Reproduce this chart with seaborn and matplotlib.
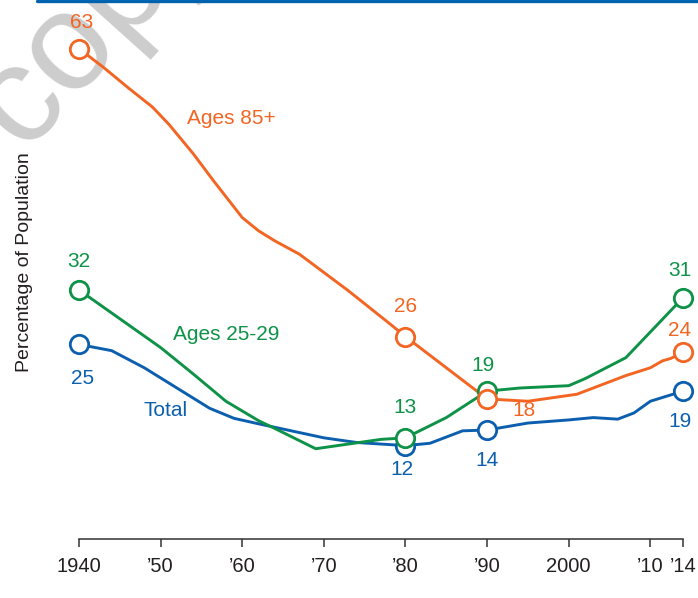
import matplotlib
matplotlib.use("Agg")
import matplotlib.pyplot as plt
from matplotlib.lines import Line2D
import pandas as pd
import seaborn as sns

# Share of the population in each group, by year
total_years = [1940, 1944, 1948, 1952, 1956, 1959, 1962, 1966, 1970, 1974, 1980,
               1983, 1987, 1990, 1995, 2000, 2003, 2006, 2008, 2010, 2014]
total_pct = [25, 24.2, 22.0, 19.4, 16.8, 15.5, 14.8, 13.9, 13.0, 12.4, 12,
             12.3, 13.9, 14, 14.9, 15.3, 15.6, 15.4, 16.2, 17.7, 19]

young_years = [1940, 1945, 1950, 1954, 1958, 1962, 1964, 1969, 1973, 1977, 1980,
               1985, 1990, 1994, 2000, 2002, 2007, 2014]
young_pct = [32, 28.3, 24.6, 21.2, 17.7, 15.2, 14.2, 11.6, 12.2, 12.8, 13,
             15.6, 19, 19.4, 19.7, 20.6, 23.3, 31]

old_years = [1940, 1943, 1946, 1949, 1951, 1954, 1956.5, 1960, 1962, 1964, 1967,
             1973, 1978.5, 1980, 1990, 1995, 2001, 2007, 2010, 2011.5, 2012.5, 2014]
old_pct = [63, 60.6, 58.0, 55.5, 53.3, 49.5, 46.0, 41.3, 39.6, 38.3, 36.6,
           31.9, 27.3, 26, 18, 17.7, 18.6, 21.0, 22.0, 22.9, 23.2, 24]

marked_years = [1940, 1980, 1990, 2014]

tick_years = [1940, 1950, 1960, 1970, 1980, 1990, 2000, 2010, 2014]
tick_labels = ["1940", "\u201950", "\u201960", "\u201970", "\u201980", "\u201990",
               "2000", "\u201910", "\u201914"]

series_names = ["Total", "Ages 25-29", "Ages 85+"]
colors = {"Total": "#0b5fae", "Ages 25-29": "#0e9247", "Ages 85+": "#f26522"}

frames = []
for name, yrs, vals in [("Total", total_years, total_pct),
                        ("Ages 25-29", young_years, young_pct),
                        ("Ages 85+", old_years, old_pct)]:
    frames.append(pd.DataFrame({"year": yrs, "pct": vals, "group": name}))
df = pd.concat(frames, ignore_index=True)
marks = df[df["year"].isin(marked_years)]

sns.set_style("white")
plt.rcParams["font.family"] = ["Liberation Sans", "DejaVu Sans"]

W, H = 698, 598
fig = plt.figure(figsize=(W / 100, H / 100), dpi=100)
ax = fig.add_axes([79 / W, 59 / H, (683 - 79) / W, (539 - 9) / H])
ax.set_facecolor("none")

line_kw = dict(solid_joinstyle="round", solid_capstyle="round")
sns.lineplot(data=df, x="year", y="pct", hue="group", hue_order=series_names,
             palette=colors, linewidth=2.1, legend=False, ax=ax, zorder=2,
             sort=True, estimator=None, **line_kw)

# open circles on the labelled years
for z, name in enumerate(series_names):
    sub = marks[marks["group"] == name]
    sns.scatterplot(data=sub, x="year", y="pct", color="white",
                    edgecolor=colors[name], linewidth=2.0, s=175, ax=ax,
                    zorder=4 + z, clip_on=False, legend=False)

# value labels: (group, year) -> offset in pixels
label_offsets = {
    ("Ages 85+", 1940): (3, 26), ("Ages 85+", 1980): (0, 30),
    ("Ages 85+", 1990): (37, -12), ("Ages 85+", 2014): (-3, 22),
    ("Ages 25-29", 1940): (0, 28), ("Ages 25-29", 1980): (0, 30),
    ("Ages 25-29", 1990): (-4, 26), ("Ages 25-29", 2014): (-3, 27),
    ("Total", 1940): (4, -34), ("Total", 1980): (-4, -24),
    ("Total", 1990): (0, -30), ("Total", 2014): (-3, -30),
}
for _, row in marks.iterrows():
    dx, dy = label_offsets[(row["group"], row["year"])]
    ax.annotate(f"{row['pct']:.0f}", (row["year"], row["pct"]),
                xytext=(dx * 0.72, dy * 0.72), textcoords="offset points",
                ha="center", va="center", fontsize=15,
                color=colors[row["group"]], annotation_clip=False)

# series names
ax.text(1958.7, 54.0, "Ages 85+", color=colors["Ages 85+"], fontsize=15,
        ha="center", va="center")
ax.text(1958.0, 26.3, "Ages 25-29", color=colors["Ages 25-29"], fontsize=15,
        ha="center", va="center")
ax.text(1950.6, 16.5, "Total", color=colors["Total"], fontsize=15,
        ha="center", va="center")

ax.set_xlim(1940, 2014)
ax.set_ylim(0, 68.1)
ax.set_xticks(tick_years)
ax.set_xticklabels(tick_labels, fontsize=14.5, color="#231f20")
ax.set_yticks([])
ax.set_xlabel("")
ax.set_ylabel("")
for side in ["left", "right", "top"]:
    ax.spines[side].set_visible(False)
ax.spines["bottom"].set_color("#333333")
ax.spines["bottom"].set_linewidth(1.1)
ax.tick_params(axis="x", direction="out", length=5.8, width=1.1,
               color="#333333", pad=7, bottom=True)

fig.text(25 / W, 1 - 262 / H, "Percentage of Population", rotation=90,
         ha="center", va="center", fontsize=14, color="#231f20")

# faint watermark behind the lines
ax.text(24 / W, 1 - 152 / H, "copy", transform=fig.transFigure, rotation=48,
        rotation_mode="anchor", ha="left", va="baseline", fontsize=100,
        color="#cdcdcd", zorder=0.5, clip_on=False)

# blue rule along the top edge
fig.add_artist(Line2D([37 / W, 1.0], [1 - 1 / H, 1 - 1 / H],
                      transform=fig.transFigure, color="#0063af", linewidth=2.4))

fig.savefig("out.png", dpi=100)
